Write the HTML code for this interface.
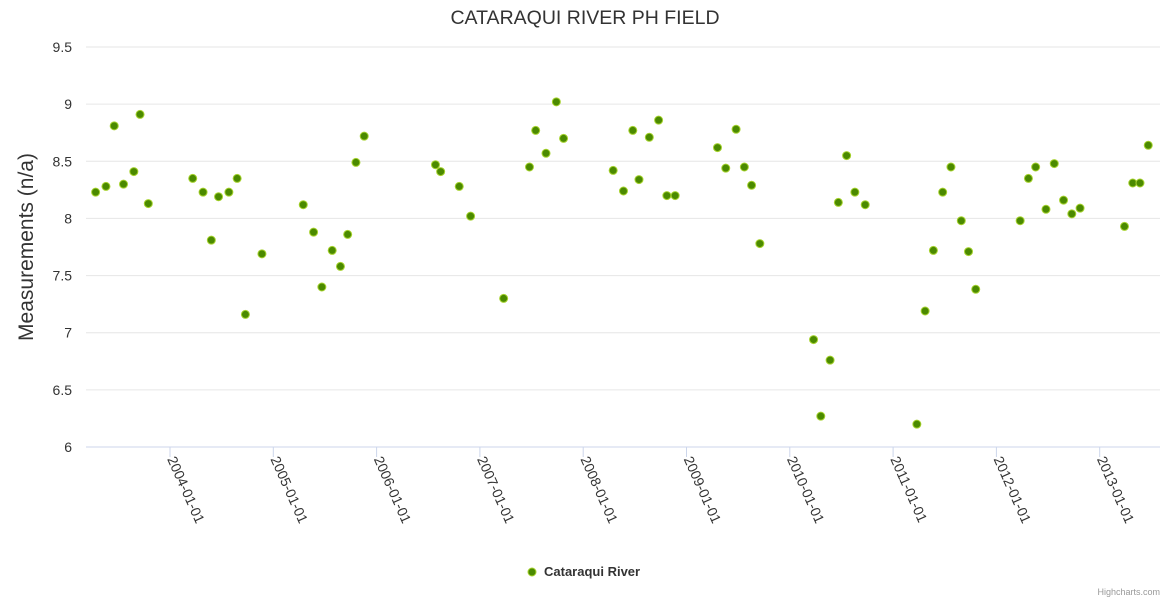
<!DOCTYPE html>
<html><head><meta charset="utf-8"><style>
body{margin:0;background:#fff;}
svg text{font-family:"Liberation Sans","DejaVu Sans",sans-serif;}
</style></head><body>
<svg id="chart" width="1170" height="600" xmlns="http://www.w3.org/2000/svg">
<text x="585" y="24" text-anchor="middle" font-size="19.5" fill="#333">CATARAQUI RIVER PH FIELD</text>
<text transform="translate(33,247) rotate(-90)" text-anchor="middle" font-size="21" fill="#333">Measurements (n/a)</text>
<g id="grid"></g><g id="xaxis"></g><g id="pts"></g>
<g>
<circle cx="532" cy="572" r="4" fill="#4b8a00" stroke="#a6d22e" stroke-width="1"/>
<text x="544" y="576" font-size="13" font-weight="bold" fill="#333">Cataraqui River</text>
</g>
<text x="1160" y="595" text-anchor="end" font-size="9" fill="#999">Highcharts.com</text>
</svg>
<script>
const yTicks=[6,6.5,7,7.5,8,8.5,9,9.5];
const xTickYears=[2004,2005,2006,2007,2008,2009,2010,2011,2012,2013];
const dates=[2003.28,2003.38,2003.46,2003.55,2003.65,2003.71,2003.79,2004.22,2004.32,2004.40,2004.47,2004.57,2004.65,2004.73,2004.89,2005.29,2005.39,2005.47,2005.57,2005.65,2005.72,2005.80,2005.88,2006.57,2006.62,2006.80,2006.91,2007.23,2007.48,2007.54,2007.64,2007.74,2007.81,2008.29,2008.39,2008.48,2008.54,2008.64,2008.73,2008.81,2008.89,2009.30,2009.38,2009.48,2009.56,2009.63,2009.71,2010.23,2010.30,2010.39,2010.47,2010.55,2010.63,2010.73,2011.23,2011.31,2011.39,2011.48,2011.56,2011.66,2011.73,2011.80,2012.23,2012.31,2012.38,2012.48,2012.56,2012.65,2012.73,2012.81,2013.24,2013.32,2013.39,2013.47];
const values=[8.23,8.28,8.81,8.30,8.41,8.91,8.13,8.35,8.23,7.81,8.19,8.23,8.35,7.16,7.69,8.12,7.88,7.40,7.72,7.58,7.86,8.49,8.72,8.47,8.41,8.28,8.02,7.30,8.45,8.77,8.57,9.02,8.70,8.42,8.24,8.77,8.34,8.71,8.86,8.20,8.20,8.62,8.44,8.78,8.45,8.29,7.78,6.94,6.27,6.76,8.14,8.55,8.23,8.12,6.20,7.19,7.72,8.23,8.45,7.98,7.71,7.38,7.98,8.35,8.45,8.08,8.48,8.16,8.04,8.09,7.93,8.31,8.31,8.64];
const NS="http://www.w3.org/2000/svg";
const L=86,R=1160,T=47,B=447;
const yS=v=>B-(v-6)/3.5*(B-T);
const xS=t=>170+(t-2004)*103.3;
function mk(tag,attrs,parent){const e=document.createElementNS(NS,tag);for(const k in attrs)e.setAttribute(k,attrs[k]);parent.appendChild(e);return e;}
const grid=document.getElementById('grid');
yTicks.forEach(v=>{
 const y=yS(v);
 const ln=mk('line',{x1:L,x2:R,y1:y,y2:y,stroke:v===6?'#ccd6eb':'#e6e6e6','stroke-width':1},grid);
 
 
 const t=mk('text',{x:72,y:y+5,'text-anchor':'end','font-size':14,fill:'#333'},grid);
 t.textContent=String(v);
 
 
});
const xa=document.getElementById('xaxis');
xTickYears.forEach(yr=>{
 const x=xS(yr);
 const tk=mk('line',{x1:x,x2:x,y1:B,y2:B+10,stroke:'#ccd6eb'},xa);
 
 
 const t=mk('text',{transform:`translate(${x-3},${B+12}) rotate(66)`,'font-size':14,fill:'#333'},xa);
 t.textContent=yr+'-01-01';
 
 
});
const pts=document.getElementById('pts');
dates.forEach((d,i)=>{
 const c=mk('circle',{cx:xS(d),cy:yS(values[i]),r:4,fill:'#4b8a00',stroke:'#a6d22e','stroke-width':1},pts);
 
 
});
</script>
</body></html>
